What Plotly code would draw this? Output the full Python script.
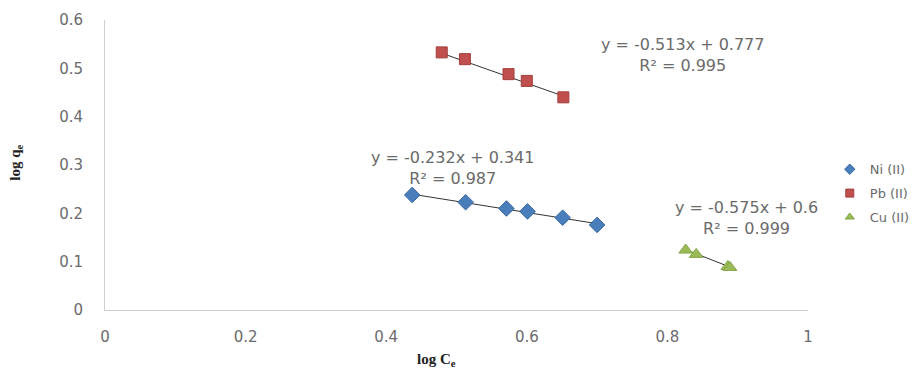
import plotly.graph_objects as go

# Data
ni_x = [0.437, 0.513, 0.571, 0.601, 0.651, 0.700]
ni_y = [0.238, 0.223, 0.210, 0.204, 0.191, 0.176]
pb_x = [0.479, 0.512, 0.574, 0.600, 0.652]
pb_y = [0.533, 0.519, 0.488, 0.474, 0.440]
cu_x = [0.826, 0.841, 0.886, 0.889]
cu_y = [0.124, 0.115, 0.090, 0.088]

# Trend line coefficients (slope, intercept) as printed on the chart
ni_fit = [-0.232, 0.341]
pb_fit = [-0.513, 0.777]
cu_fit = [-0.575, 0.6]
ni_label = "y = -0.232x + 0.341<br>R² = 0.987"
pb_label = "y = -0.513x + 0.777<br>R² = 0.995"
cu_label = "y = -0.575x + 0.6<br>R² = 0.999"

series_names = ["Ni (II)", "Pb (II)", "Cu (II)"]

x_ticks = [0, 0.2, 0.4, 0.6, 0.8, 1]
y_ticks = [0, 0.1, 0.2, 0.3, 0.4, 0.5, 0.6]

TXT = "#6b6b6b"
FONT = "DejaVu Sans"

styles = [
    dict(symbol="diamond", size=12, color="#4a7ebb", line=dict(color="#3a6aa5", width=1)),
    dict(symbol="square", size=11, color="#c0504d", line=dict(color="#a33e3b", width=1)),
    dict(symbol="triangle-up", size=12, color="#9bbb59", line=dict(color="#86a548", width=1)),
]

fig = go.Figure()

def trend(xs, fit):
    x0, x1 = min(xs), max(xs)
    return [x0, x1], [fit[0] * x0 + fit[1], fit[0] * x1 + fit[1]]

for xs, fit in [(ni_x, ni_fit), (pb_x, pb_fit), (cu_x, cu_fit)]:
    tx, ty = trend(xs, fit)
    fig.add_trace(go.Scatter(x=tx, y=ty, mode="lines",
                             line=dict(color="#333333", width=1),
                             showlegend=False, hoverinfo="skip"))

for xs, ys, name, st in zip([ni_x, pb_x, cu_x], [ni_y, pb_y, cu_y], series_names, styles):
    fig.add_trace(go.Scatter(x=xs, y=ys, mode="markers", name=name,
                             marker=st, showlegend=False, legendgroup=name))
    # legend entry with smaller marker
    small = dict(st)
    small["size"] = 8
    fig.add_trace(go.Scatter(x=[None], y=[None], mode="markers", name=name,
                             marker=small, showlegend=True, legendgroup=name))

annos = [
    (0.495, 0.293, ni_label),
    (0.822, 0.527, pb_label),
    (0.913, 0.191, cu_label),
]
for ax_, ay_, txt in annos:
    fig.add_annotation(x=ax_, y=ay_, text=txt, showarrow=False, xref="x", yref="y",
                       font=dict(family=FONT, size=16, color=TXT), align="center")

# Axis titles
fig.add_annotation(x=0.472, y=-0.172, xref="paper", yref="paper",
                   xanchor="center", yanchor="middle",
                   text="<b>log C<sub>e</sub></b>", showarrow=False,
                   font=dict(family="Liberation Serif", size=15, color="#222222"))
fig.add_annotation(x=-0.127, y=0.507, xref="paper", yref="paper",
                   xanchor="center", yanchor="middle",
                   text="<b>log q<sub>e</sub></b>", showarrow=False, textangle=-90,
                   font=dict(family="Liberation Serif", size=15, color="#222222"))

fig.update_layout(
    width=924, height=368,
    margin=dict(l=97, r=124, t=12, b=66, autoexpand=False),
    paper_bgcolor="white", plot_bgcolor="white",
    font=dict(family=FONT, size=15, color=TXT),
    showlegend=True,
    legend=dict(x=1.031, y=0.537, xanchor="left", yanchor="top",
                font=dict(family=FONT, size=13, color=TXT), itemwidth=30,
                bgcolor="rgba(0,0,0,0)", tracegroupgap=4, traceorder="grouped",
                itemsizing="trace"),
    xaxis=dict(range=[0, 1], tickvals=x_ticks, ticktext=[str(v) for v in x_ticks],
               showgrid=False, zeroline=False, showline=True, linecolor="#d0d0d0",
               linewidth=1, ticks="", ticklabelstandoff=13, automargin=False),
    yaxis=dict(range=[0, 0.6], tickvals=y_ticks, ticktext=[str(v) for v in y_ticks],
               showgrid=False, zeroline=False, showline=True, linecolor="#d0d0d0",
               linewidth=1, ticks="", ticklabelstandoff=18, automargin=False),
)

fig.write_html("out.html")
